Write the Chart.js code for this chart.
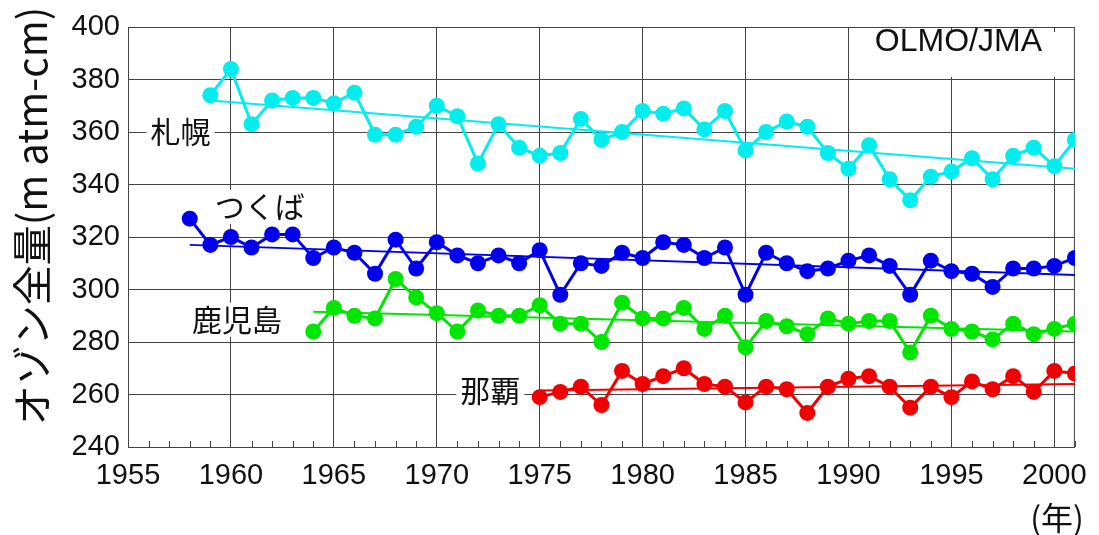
<!DOCTYPE html>
<html lang="ja">
<head>
<meta charset="utf-8">
<title>オゾン全量の経年変化</title>
<script src="https://cdn.jsdelivr.net/npm/chart.js@4.4.1/dist/chart.umd.min.js"></script>
<style>
  html, body { margin: 0; padding: 0; background: #fff; }
  #wrap { width: 1099px; height: 535px; position: relative; }
</style>
</head>
<body>
<div id="wrap"><canvas id="c" width="1099" height="535"></canvas></div>
<script>
// Observation years (annual means)
const years = [
  1958, 1959, 1960, 1961, 1962, 1963, 1964, 1965, 1966, 1967,
  1968, 1969, 1970, 1971, 1972, 1973, 1974, 1975, 1976, 1977,
  1978, 1979, 1980, 1981, 1982, 1983, 1984, 1985, 1986, 1987,
  1988, 1989, 1990, 1991, 1992, 1993, 1994, 1995, 1996, 1997,
  1998, 1999, 2000, 2001
];

// Annual mean total ozone (m atm-cm), aligned with `years`; null = no record
const sapporo = [
  null, 374, 384, 363, 372, 373, 373, 371, 375, 359,
  359, 362, 370, 366, 348, 363, 354, 351, 352, 365,
  357, 360, 368, 367, 369, 361, 368, 353, 360, 364,
  362, 352, 346, 355, 342, 334, 343, 345, 350, 342,
  351, 354, 347, 357
];
const tsukuba = [
  327, 317, 320, 316, 321, 321, 312, 316, 314, 306,
  319, 308, 318, 313, 310, 313, 310, 315, 298, 310,
  309, 314, 312, 318, 317, 312, 316, 298, 314, 310,
  307, 308, 311, 313, 309, 298, 311, 307, 306, 301,
  308, 308, 309, 312
];
const kagoshima = [
  null, null, null, null, null, null, 284, 293, 290, 289,
  304, 297, 291, 284, 292, 290, 290, 294, 287, 287,
  280, 295, 289, 289, 293, 285, 290, 278, 288, 286,
  283, 289, 287, 288, 288, 276, 290, 285, 284, 281,
  287, 283, 285, 287
];
const naha = [
  null, null, null, null, null, null, null, null, null, null,
  null, null, null, null, null, null, null, 259, 261, 263,
  256, 269, 264, 267, 270, 264, 263, 257, 263, 262,
  253, 263, 266, 267, 263, 255, 263, 259, 265, 262,
  267, 261, 269, 268
];

// Linear trend lines: [start year, value], [end year, value]
const sapporoTrend   = [[1959, 372], [2001, 346]];
const tsukubaTrend   = [[1958, 317], [2001, 305.5]];
const kagoshimaTrend = [[1964, 291.5], [2001, 284]];
const nahaTrend      = [[1975, 261.5], [2001, 264]];

// Axis ticks
const yTicks = [240, 260, 280, 300, 320, 340, 360, 380, 400];
const xTickStep = 5;

// Station names and where they sit (in data units)
const stationNames = ['札幌', 'つくば', '鹿児島', '那覇'];
const stationNamePos = [[1957.55, 360], [1961.4, 331.5], [1960.3, 288.5], [1972.6, 261.5]];

const colors = {
  sapporo: '#00eeee',
  tsukuba: '#0000ee',
  kagoshima: '#00e600',
  naha: '#f00000'
};

const toPoints = vals => years.map((yr, i) => ({ x: yr, y: vals[i] })).filter(p => p.y !== null);
const toLine = pairs => pairs.map(([x, y]) => ({ x, y }));

function seriesDataset(label, vals, color) {
  return {
    label, data: toPoints(vals), borderColor: color, backgroundColor: color,
    borderWidth: 3, pointRadius: 8, pointHoverRadius: 8, pointBorderWidth: 0,
    tension: 0, order: 2
  };
}
function trendDataset(label, pairs, color) {
  return {
    label, data: toLine(pairs), borderColor: color, backgroundColor: color,
    borderWidth: 2, pointRadius: 0, pointHoverRadius: 0, tension: 0, order: 1
  };
}

const GRID = '#444';
const TICK_FONT = { family: 'Arial, "Liberation Sans", sans-serif', size: 29 };

// Frame, minor year ticks, station names and titles
const decorations = {
  id: 'decorations',
  beforeDatasetsDraw(chart) {
    const { ctx, chartArea: a, scales: { x, y } } = chart;
    ctx.save();

    // source credit, top right, on a white patch
    ctx.font = '32px Arial, "Liberation Sans", sans-serif';
    ctx.textAlign = 'right';
    ctx.textBaseline = 'middle';
    const cx = x.getPixelForValue(1999.4);
    const cy = y.getPixelForValue(394.3);
    const cw = ctx.measureText('OLMO/JMA').width;
    ctx.fillStyle = '#fff';
    ctx.fillRect(cx - cw - 12, a.top + 5, cw + 26, y.getPixelForValue(381) - a.top - 5);
    ctx.fillStyle = '#111';
    ctx.fillText('OLMO/JMA', cx, cy);

    // top and right edges of the frame
    ctx.strokeStyle = GRID;
    ctx.lineWidth = 1;
    ctx.beginPath();
    ctx.moveTo(a.left, a.top + 0.5);
    ctx.lineTo(a.right - 0.5, a.top + 0.5);
    ctx.lineTo(a.right - 0.5, a.bottom);
    ctx.stroke();
    // minor ticks every year along the bottom
    ctx.beginPath();
    for (let yr = Math.ceil(x.min); yr <= x.max; yr++) {
      if (yr % xTickStep === 0) continue;
      const px = Math.round(x.getPixelForValue(yr)) + 0.5;
      ctx.moveTo(px, a.bottom);
      ctx.lineTo(px, a.bottom - 6);
    }
    ctx.stroke();

    // station names on white patches
    ctx.font = '30px "Noto Sans CJK JP", sans-serif';
    ctx.textAlign = 'center';
    ctx.textBaseline = 'middle';
    stationNames.forEach((name, i) => {
      const px = x.getPixelForValue(stationNamePos[i][0]);
      const py = y.getPixelForValue(stationNamePos[i][1]);
      const w = ctx.measureText(name).width + 8;
      ctx.fillStyle = '#fff';
      ctx.fillRect(px - w / 2, py - 17, w, 34);
      ctx.fillStyle = '#111';
      ctx.fillText(name, px, py);
    });
    ctx.restore();
  },
  afterDraw(chart) {
    const { ctx } = chart;
    ctx.save();
    ctx.fillStyle = '#111';
    ctx.textAlign = 'center';
    ctx.textBaseline = 'middle';
    // y-axis title
    ctx.translate(32, 216);
    ctx.rotate(-Math.PI / 2);
    ctx.font = '40px "Noto Sans CJK JP", sans-serif';
    ctx.fillText('オゾン全量(m atm-cm)', 0, 0);
    ctx.restore();
    // unit under the x axis
    ctx.save();
    ctx.fillStyle = '#111';
    ctx.textAlign = 'center';
    ctx.textBaseline = 'middle';
    ctx.font = '32px "Noto Sans CJK JP", sans-serif';
    ctx.fillText('(年)', 1057, 518);
    ctx.restore();
  }
};

new Chart(document.getElementById('c'), {
  type: 'line',
  data: {
    datasets: [
      seriesDataset('札幌', sapporo, colors.sapporo),
      seriesDataset('つくば', tsukuba, colors.tsukuba),
      seriesDataset('鹿児島', kagoshima, colors.kagoshima),
      seriesDataset('那覇', naha, colors.naha),
      trendDataset('札幌 傾向', sapporoTrend, colors.sapporo),
      trendDataset('つくば 傾向', tsukubaTrend, colors.tsukuba),
      trendDataset('鹿児島 傾向', kagoshimaTrend, colors.kagoshima),
      trendDataset('那覇 傾向', nahaTrend, colors.naha)
    ]
  },
  options: {
    responsive: false,
    animation: false,
    events: [],
    layout: { padding: { left: 0, right: 19, top: 27, bottom: 0 } },
    plugins: { legend: { display: false }, tooltip: { enabled: false } },
    scales: {
      x: {
        type: 'linear', min: 1955, max: 2001,
        ticks: { stepSize: xTickStep, includeBounds: false, color: '#111', font: TICK_FONT, padding: 12, maxRotation: 0, autoSkip: false,
                 callback: v => String(v) },
        grid: { color: GRID, lineWidth: 1, drawTicks: false },
        border: { display: true, color: GRID, width: 1 },
        afterFit: s => { s.height = 88; }
      },
      y: {
        type: 'linear', min: yTicks[0], max: yTicks[yTicks.length - 1],
        afterBuildTicks: s => { s.ticks = yTicks.map(v => ({ value: v })); },
        ticks: { color: '#111', font: TICK_FONT, padding: 8, autoSkip: false },
        grid: { color: GRID, lineWidth: 1, drawTicks: false },
        border: { display: true, color: GRID, width: 1 },
        afterFit: s => { s.width = 128; }
      }
    }
  },
  plugins: [decorations]
});
</script>
</body>
</html>
